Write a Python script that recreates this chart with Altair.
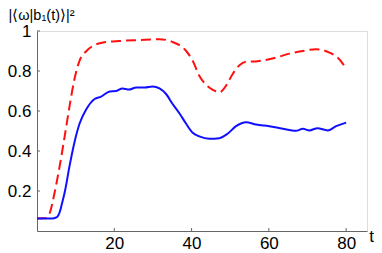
import altair as alt
import pandas as pd

blue_t = [0, 2, 4, 4.8, 5.5, 5.9, 6.5, 7.2, 8.45, 9.7, 11.0, 12.8, 14.9, 16.6, 18.8, 20.5, 22.1, 23.8,
          25.7, 27.9, 29.9, 31.7, 33.4, 35.1, 36.8, 38.6, 40.3, 42, 44.6, 47.2, 49.3, 51.5, 54.1, 56.7,
          60.1, 63.6, 67, 68.8, 70.5, 72.6, 75.2, 77.4, 80]
blue_v = [0.063, 0.063, 0.063, 0.066, 0.078, 0.096, 0.14, 0.196, 0.328, 0.444, 0.536, 0.61, 0.66, 0.672,
          0.698, 0.70, 0.713, 0.707, 0.718, 0.718, 0.723, 0.713, 0.685, 0.635, 0.59, 0.536, 0.491, 0.473,
          0.461, 0.464, 0.486, 0.524, 0.544, 0.532, 0.524, 0.511, 0.501, 0.511, 0.503, 0.514, 0.503,
          0.524, 0.542]

red_t = [0, 2.5, 3.3, 4.6, 5.9, 7.2, 8.45, 9.7, 11.0, 12.8, 14.9, 17.1, 21.4, 26.5, 31.7, 35.1, 38.6,
         40.3, 42, 43.8, 45.5, 47.2, 48.9, 50.6, 52.4, 54.1, 57.1, 61.9, 65.3, 68.8, 72.2, 75.7, 77.8, 80]
red_v = [0.063, 0.065, 0.09, 0.196, 0.328, 0.478, 0.627, 0.76, 0.851, 0.90, 0.93, 0.942, 0.95, 0.955,
         0.959, 0.945, 0.90, 0.851, 0.776, 0.73, 0.706, 0.693, 0.726, 0.784, 0.829, 0.846, 0.849, 0.867,
         0.887, 0.90, 0.909, 0.892, 0.867, 0.813]

x_ticks = [20, 40, 60, 80]
y_ticks = [0.2, 0.4, 0.6, 0.8, 1.0]

FONT = "Liberation Sans"
W, H = 330, 200
XDOM = [0, 85.4]

blue = pd.DataFrame({"t": blue_t, "v": blue_v})
red = pd.DataFrame({"t": red_t, "v": red_v})

xscale = alt.Scale(domain=XDOM, nice=False, zero=False)
yscale = alt.Scale(domain=[0, 1], nice=False)

xaxis = alt.Axis(values=x_ticks, ticks=False, grid=False, domainColor="#666666", labelFont=FONT,
                 labelFontSize=17, labelColor="black", labelPadding=4, title="t", titleFont=FONT,
                 titleFontSize=17, titleFontWeight="normal", titleX=334, titleY=5,
                 titleBaseline="middle", titleAlign="center", titleColor="black")
yaxis = alt.Axis(values=y_ticks, ticks=False, grid=False, domainColor="#666666", labelFont=FONT,
                 labelFontSize=17, labelColor="black", labelPadding=6,
                 labelExpr="datum.value == 1 ? '1' : format(datum.value, '.1f')",
                 title="|⟨ω|b₁(t)⟩|²",
                 titleFont=FONT, titleFontSize=14.5, titleFontWeight="normal", titleAngle=0,
                 titleX=-29, titleY=-23, titleAlign="left", titleBaseline="top", titleColor="black")

red_line = alt.Chart(red).mark_line(color="#ff1010", strokeWidth=2, strokeDash=[10, 5],
                                    interpolate="monotone").encode(
    x=alt.X("t:Q", scale=xscale, axis=xaxis),
    y=alt.Y("v:Q", scale=yscale, axis=yaxis),
)
blue_line = alt.Chart(blue).mark_line(color="#1010ff", strokeWidth=2,
                                      interpolate="monotone").encode(
    x=alt.X("t:Q", scale=xscale),
    y=alt.Y("v:Q", scale=yscale),
)

xt = alt.Chart(pd.DataFrame({"t": x_ticks})).mark_rule(color="#666666", strokeWidth=1).encode(
    x=alt.X("t:Q", scale=xscale), y=alt.value(H), y2=alt.value(H - 3))
yt = alt.Chart(pd.DataFrame({"v": y_ticks})).mark_rule(color="#666666", strokeWidth=1).encode(
    y=alt.Y("v:Q", scale=yscale), x=alt.value(0), x2=alt.value(3))

chart = alt.layer(red_line, blue_line, xt, yt).properties(
    width=W, height=H,
    autosize=alt.AutoSizeParams(type="none"),
    padding={"left": 29, "top": 23, "right": 7, "bottom": 22},
).configure_view(stroke=None).configure(background="white")

chart.save("out.html", embed_options={"renderer": "svg", "actions": False})
